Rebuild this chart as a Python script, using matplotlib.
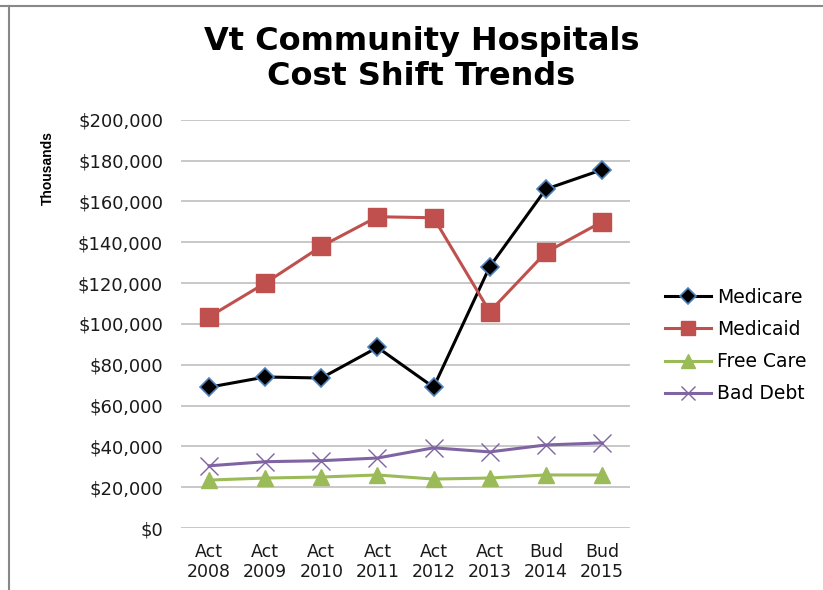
import matplotlib.pyplot as plt
from matplotlib.lines import Line2D
from matplotlib.ticker import FuncFormatter
import numpy as np

plt.rcParams['font.family'] = ['DejaVu Sans']

periods = ['Act\n2008', 'Act\n2009', 'Act\n2010', 'Act\n2011', 'Act\n2012',
           'Act\n2013', 'Bud\n2014', 'Bud\n2015']
medicare = [69000, 74000, 73500, 88500, 69000, 128000, 166000, 175500]
medicaid = [103500, 120000, 138000, 152500, 152000, 106000, 135000, 150000]
free_care = [23500, 24500, 25000, 26000, 24000, 24500, 26000, 26000]
bad_debt = [30500, 32500, 33000, 34300, 39300, 37300, 40700, 41700]

fig = plt.figure(figsize=(8.23, 5.90), dpi=100)
ax = fig.add_axes([0.22, 0.105, 0.5455, 0.692])
x = np.arange(len(periods))

ax.plot(x, medicare, '-', color='black', lw=2.2, marker='D', markersize=9,
        markerfacecolor='black', markeredgecolor='#4f81bd', markeredgewidth=1.2,
        label='Medicare')
ax.plot(x, medicaid, '-', color='#c0504d', lw=2.2, marker='s', markersize=12.5,
        label='Medicaid')
ax.plot(x, free_care, '-', color='#9bbb59', lw=2.2, marker='^', markersize=11.5,
        label='Free Care')
ax.plot(x, bad_debt, '-', color='#8064a2', lw=2.2, marker='x', markersize=12.5,
        markeredgewidth=1, label='Bad Debt')

ax.set_xlim(-0.5, len(periods) - 0.5)
ax.set_ylim(0, 200000)
ax.set_yticks(np.arange(0, 200001, 20000))
ax.yaxis.set_major_formatter(FuncFormatter(lambda v, p: '${:,.0f}'.format(v)))
ax.set_xticks(x)
ax.set_xticklabels(periods, fontsize=12.5, color='#1a1a1a', linespacing=1.1)
ax.tick_params(axis='y', labelsize=13, colors='#1a1a1a', length=0, pad=13)
ax.tick_params(axis='x', length=0, pad=11)
ax.grid(axis='y', color='#bfbfbf', lw=1.2)
ax.set_axisbelow(True)
for s in ax.spines.values():
    s.set_visible(False)

fig.text(0.512, 0.9, 'Vt Community Hospitals\nCost Shift Trends', ha='center',
         va='center', fontsize=23, fontweight='bold', linespacing=1.15)
fig.text(0.058, 0.715, 'Thousands', rotation=90, ha='center', va='center',
         fontsize=10, fontweight='bold', family=['Liberation Sans Narrow', 'Liberation Sans'])

ax.legend(loc='center left', bbox_to_anchor=(1.062, 0.447), frameon=False,
          fontsize=13.5, handlelength=2.45, labelspacing=0.7, handletextpad=0.3,
          borderaxespad=0, markerscale=0.85)

fig.add_artist(Line2D([0, 1], [0.99, 0.99], color='#888888', lw=1.5, transform=fig.transFigure))
fig.add_artist(Line2D([0.011, 0.011], [0, 0.99], color='#888888', lw=1.5, transform=fig.transFigure))

fig.savefig('out.png', dpi=100)
